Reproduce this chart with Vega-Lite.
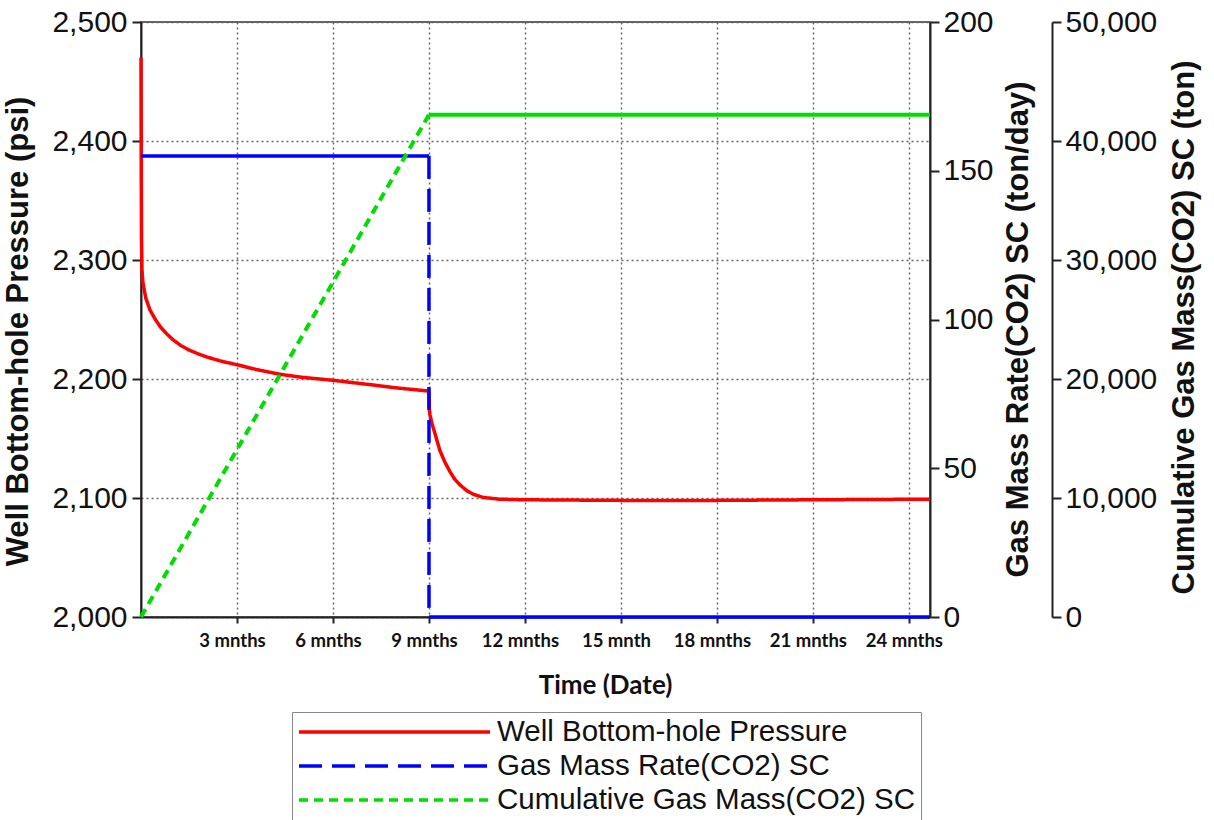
{
  "$schema": "https://vega.github.io/schema/vega-lite/v6.json",
  "width": 789,
  "height": 595,
  "autosize": {"type": "none"},
  "padding": {"left": 141, "top": 22, "right": 284, "bottom": 203},
  "background": "white",
  "config": {
    "font": "Liberation Sans",
    "view": {"stroke": "#333", "strokeWidth": 1.5},
    "axis": {
      "domainColor": "#222", "domainWidth": 2, "tickColor": "#222", "tickWidth": 2,
      "labelColor": "#111", "titleColor": "#111",
      "labelFont": "Liberation Sans", "titleFont": "Liberation Sans",
      "labelFontSize": 30, "titleFontSize": 31, "titleFontWeight": "bold",
      "gridColor": "#666", "gridDash": [2, 3], "gridWidth": 1.5
    },
    "legend": {
      "orient": "none", "legendX": 151, "legendY": 690, "direction": "vertical",
      "strokeColor": "#888", "fillColor": "white", "padding": 5,
      "symbolType": "stroke", "symbolSize": 36481, "symbolStrokeWidth": 3.5,
      "clipHeight": 30,
      "labelFontSize": 29.5, "labelFont": "Liberation Sans", "labelColor": "#111",
      "labelOffset": 5, "rowPadding": 4, "labelLimit": 0
    }
  },
  "datasets": {
    "pressure": [
      {"series": "Well Bottom-hole Pressure", "t": 0, "psi": 2470},
      {"series": "Well Bottom-hole Pressure", "t": 0.005, "psi": 2400},
      {"series": "Well Bottom-hole Pressure", "t": 0.015, "psi": 2320},
      {"series": "Well Bottom-hole Pressure", "t": 0.03, "psi": 2292},
      {"series": "Well Bottom-hole Pressure", "t": 0.06, "psi": 2281},
      {"series": "Well Bottom-hole Pressure", "t": 0.15, "psi": 2268},
      {"series": "Well Bottom-hole Pressure", "t": 0.28, "psi": 2258},
      {"series": "Well Bottom-hole Pressure", "t": 0.45, "psi": 2250},
      {"series": "Well Bottom-hole Pressure", "t": 0.6, "psi": 2244},
      {"series": "Well Bottom-hole Pressure", "t": 0.8, "psi": 2238},
      {"series": "Well Bottom-hole Pressure", "t": 1.0, "psi": 2233},
      {"series": "Well Bottom-hole Pressure", "t": 1.25, "psi": 2228},
      {"series": "Well Bottom-hole Pressure", "t": 1.53, "psi": 2224},
      {"series": "Well Bottom-hole Pressure", "t": 1.8, "psi": 2221},
      {"series": "Well Bottom-hole Pressure", "t": 2.06, "psi": 2218.5},
      {"series": "Well Bottom-hole Pressure", "t": 2.5, "psi": 2215},
      {"series": "Well Bottom-hole Pressure", "t": 3.0, "psi": 2212},
      {"series": "Well Bottom-hole Pressure", "t": 3.6, "psi": 2208},
      {"series": "Well Bottom-hole Pressure", "t": 4.34, "psi": 2204},
      {"series": "Well Bottom-hole Pressure", "t": 5.0, "psi": 2201.5},
      {"series": "Well Bottom-hole Pressure", "t": 5.97, "psi": 2199},
      {"series": "Well Bottom-hole Pressure", "t": 6.6, "psi": 2197},
      {"series": "Well Bottom-hole Pressure", "t": 7.25, "psi": 2195},
      {"series": "Well Bottom-hole Pressure", "t": 8.0, "psi": 2192.5},
      {"series": "Well Bottom-hole Pressure", "t": 8.94, "psi": 2190},
      {"series": "Well Bottom-hole Pressure", "t": 9.0, "psi": 2189.5},
      {"series": "Well Bottom-hole Pressure", "t": 9.01, "psi": 2176},
      {"series": "Well Bottom-hole Pressure", "t": 9.03, "psi": 2170},
      {"series": "Well Bottom-hole Pressure", "t": 9.1, "psi": 2162},
      {"series": "Well Bottom-hole Pressure", "t": 9.19, "psi": 2154},
      {"series": "Well Bottom-hole Pressure", "t": 9.34, "psi": 2140},
      {"series": "Well Bottom-hole Pressure", "t": 9.5, "psi": 2130},
      {"series": "Well Bottom-hole Pressure", "t": 9.66, "psi": 2122},
      {"series": "Well Bottom-hole Pressure", "t": 9.8, "psi": 2116},
      {"series": "Well Bottom-hole Pressure", "t": 9.97, "psi": 2111},
      {"series": "Well Bottom-hole Pressure", "t": 10.19, "psi": 2106},
      {"series": "Well Bottom-hole Pressure", "t": 10.4, "psi": 2103},
      {"series": "Well Bottom-hole Pressure", "t": 10.69, "psi": 2100.5},
      {"series": "Well Bottom-hole Pressure", "t": 11.2, "psi": 2099},
      {"series": "Well Bottom-hole Pressure", "t": 12, "psi": 2098.5},
      {"series": "Well Bottom-hole Pressure", "t": 15, "psi": 2098},
      {"series": "Well Bottom-hole Pressure", "t": 18, "psi": 2098},
      {"series": "Well Bottom-hole Pressure", "t": 21, "psi": 2098.5},
      {"series": "Well Bottom-hole Pressure", "t": 24.66, "psi": 2099}
    ],
    "rate": [
      {"series": "Gas Mass Rate(CO2) SC", "phase": "injection", "t": 0, "rate": 155},
      {"series": "Gas Mass Rate(CO2) SC", "phase": "injection", "t": 9, "rate": 155},
      {"series": "Gas Mass Rate(CO2) SC", "phase": "transition", "t": 9, "rate": 155},
      {"series": "Gas Mass Rate(CO2) SC", "phase": "transition", "t": 9.001, "rate": 0},
      {"series": "Gas Mass Rate(CO2) SC", "phase": "shut-in", "t": 9, "rate": 0},
      {"series": "Gas Mass Rate(CO2) SC", "phase": "shut-in", "t": 24.66, "rate": 0}
    ],
    "cum": [
      {"series": "Cumulative Gas Mass(CO2) SC", "phase": "injection", "t": 0, "mass": 0},
      {"series": "Cumulative Gas Mass(CO2) SC", "phase": "injection", "t": 9, "mass": 42200},
      {"series": "Cumulative Gas Mass(CO2) SC", "phase": "shut-in", "t": 9, "mass": 42200},
      {"series": "Cumulative Gas Mass(CO2) SC", "phase": "shut-in", "t": 24.66, "mass": 42200}
    ]
  },
  "encoding": {
    "x": {
      "field": "t", "type": "quantitative",
      "scale": {"domain": [0, 24.66], "nice": false, "zero": false},
      "axis": {
        "values": [3, 6, 9, 12, 15, 18, 21, 24], "grid": true,
        "labelExpr": "datum.value == 15 ? '15 mnth' : datum.value + ' mnths'",
        "labelFont": "Lato", "labelFontWeight": "bold", "labelFontSize": 18.5,
        "labelPadding": 8, "tickSize": 6, "labelOffset": -5,
        "title": "Time (Date)", "titleFont": "Lato", "titleFontSize": 26,
        "titleX": 464, "titleY": 68, "titleBaseline": "middle"
      }
    },
    "color": {
      "field": "series", "type": "nominal",
      "scale": {
        "domain": ["Well Bottom-hole Pressure", "Gas Mass Rate(CO2) SC", "Cumulative Gas Mass(CO2) SC"],
        "range": ["#ff0000", "#0000ff", "#00dd00"]
      },
      "legend": {"title": null}
    },
    "strokeDash": {
      "field": "series", "type": "nominal",
      "scale": {
        "domain": ["Well Bottom-hole Pressure", "Gas Mass Rate(CO2) SC", "Cumulative Gas Mass(CO2) SC"],
        "range": [[1, 0], [23, 10], [9, 6]]
      },
      "legend": {"title": null}
    }
  },
  "layer": [
    {
      "data": {"name": "pressure"},
      "mark": {"type": "line", "strokeWidth": 3.5},
      "encoding": {
        "y": {
          "field": "psi", "type": "quantitative",
          "scale": {"domain": [2000, 2500], "nice": false, "zero": false},
          "axis": {
            "title": "Well Bottom-hole Pressure (psi)",
            "values": [2000, 2100, 2200, 2300, 2400, 2500], "format": ",.0f",
            "grid": true, "tickSize": 9, "labelPadding": 5,
            "titleX": -123, "titleY": 309, "titleBaseline": "middle", "titleAngle": 270
          }
        }
      }
    },
    {
      "data": {"name": "rate"},
      "mark": {"type": "line", "strokeWidth": 3.5},
      "encoding": {
        "detail": {"field": "phase"},
        "strokeDash": {
          "field": "series", "type": "nominal",
          "condition": {"test": "datum.phase != 'transition'", "value": [1, 0]}
        },
        "y": {
          "field": "rate", "type": "quantitative",
          "scale": {"domain": [0, 200], "nice": false},
          "axis": {
            "orient": "right", "title": "Gas Mass Rate(CO2) SC (ton/day)",
            "values": [0, 50, 100, 150, 200], "format": "d", "grid": false, "tickSize": 9, "labelPadding": 4,
            "titleX": 88, "titleY": 307, "titleBaseline": "middle", "titleAngle": 270
          }
        }
      }
    },
    {
      "data": {"name": "cum"},
      "mark": {"type": "line", "strokeWidth": 4},
      "encoding": {
        "detail": {"field": "phase"},
        "strokeDash": {
          "field": "series", "type": "nominal",
          "condition": {"test": "datum.phase == 'shut-in'", "value": [1, 0]}
        },
        "y": {
          "field": "mass", "type": "quantitative",
          "scale": {"domain": [0, 50000], "nice": false},
          "axis": {
            "orient": "right", "offset": 122, "title": "Cumulative Gas Mass(CO2) SC (ton)",
            "values": [0, 10000, 20000, 30000, 40000, 50000], "format": ",.0f",
            "grid": false, "tickSize": 9, "labelPadding": 4,
            "titleX": 132, "titleY": 305, "titleBaseline": "middle", "titleAngle": 270
          }
        }
      }
    }
  ],
  "resolve": {"scale": {"y": "independent"}}
}
